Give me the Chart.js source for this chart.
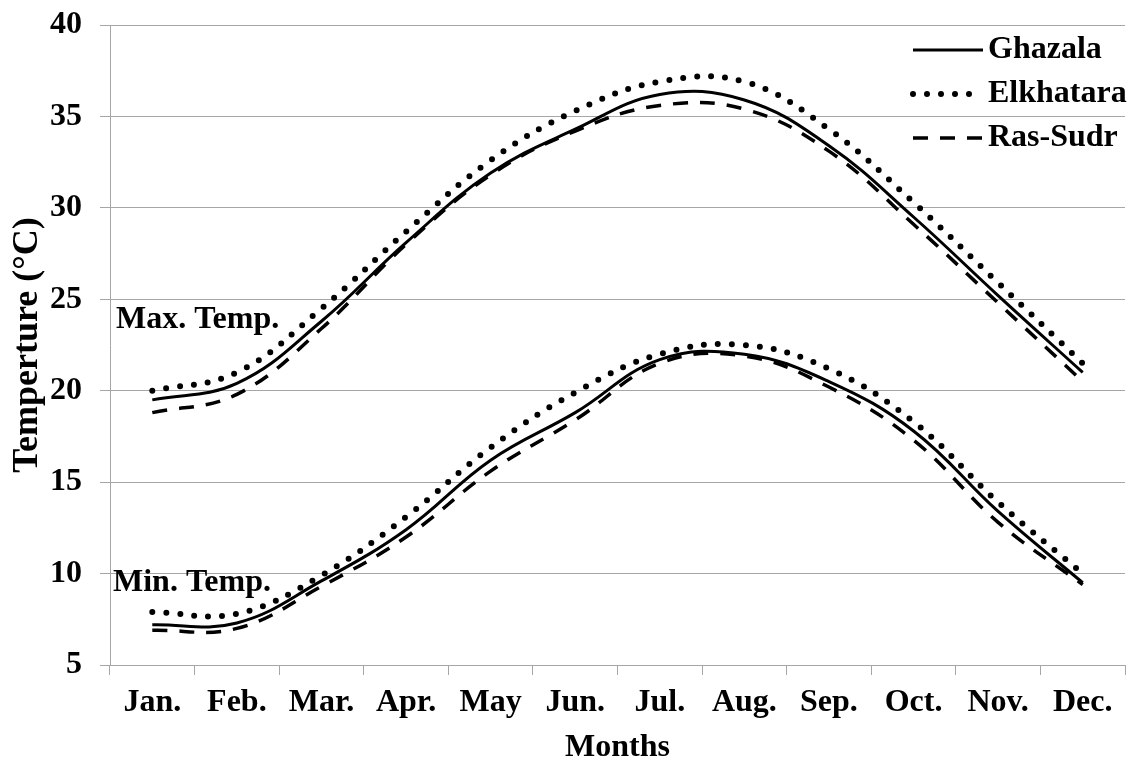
<!DOCTYPE html>
<html>
<head>
<meta charset="utf-8">
<title>Monthly temperature</title>
<script src="https://cdn.jsdelivr.net/npm/chart.js@4.4.1/dist/chart.umd.min.js"></script>
<style>
  html, body { margin: 0; padding: 0; background: #fff; }
  #wrap { width: 1137px; height: 765px; }
</style>
</head>
<body>
<div id="wrap"><canvas id="tempChart" width="1137" height="765"></canvas></div>
<script>
// monthly means, degrees C
const months = ['Jan.', 'Feb.', 'Mar.', 'Apr.', 'May', 'Jun.', 'Jul.', 'Aug.', 'Sep.', 'Oct.', 'Nov.', 'Dec.'];

const ghazalaMax   = [19.5, 20.4, 23.8, 28.1, 31.9, 34.3, 36.2, 35.9, 33.4, 29.5, 25.2, 21.0];
const elkhataraMax = [20.0, 21.0, 24.5, 28.7, 32.6, 35.3, 36.9, 36.9, 34.3, 30.3, 25.9, 21.5];
const rasSudrMax   = [18.8, 19.8, 23.4, 28.0, 31.8, 34.2, 35.6, 35.4, 33.1, 29.1, 24.8, 20.5];

const ghazalaMin   = [7.2, 7.3, 9.6, 12.4, 16.2, 18.8, 21.7, 22.0, 20.5, 17.8, 13.4, 9.5];
const elkhataraMin = [7.9, 7.8, 9.9, 13.1, 16.9, 19.9, 22.0, 22.5, 21.2, 18.3, 13.9, 10.0];
const rasSudrMin   = [6.9, 7.0, 9.3, 12.0, 15.6, 18.4, 21.5, 21.9, 20.2, 17.3, 12.8, 9.4];

const yTicks = [5, 10, 15, 20, 25, 30, 35, 40];
const stations = ['Ghazala', 'Elkhatara', 'Ras-Sudr'];

const FONT = "'Liberation Serif', 'Times New Roman', serif";
const GRID = '#a6a6a6';

Chart.defaults.font.family = FONT;
Chart.defaults.color = '#000';

// line styles per station
const styles = [
  { borderWidth: 3, borderDash: [], borderCapStyle: 'butt' },
  { borderWidth: 6, borderDash: [0, 14], borderCapStyle: 'round' },
  { borderWidth: 3.5, borderDash: [15, 12], borderCapStyle: 'butt' }
];

function series(label, data, i) {
  return Object.assign({
    label: label,
    data: data,
    borderColor: '#000',
    backgroundColor: '#000',
    pointRadius: 0,
    tension: 0.4,
    fill: false
  }, styles[i]);
}

const datasets = [
  series(stations[0], ghazalaMax, 0),
  series(stations[1], elkhataraMax, 1),
  series(stations[2], rasSudrMax, 2),
  series(stations[0] + ' min', ghazalaMin, 0),
  series(stations[1] + ' min', elkhataraMin, 1),
  series(stations[2] + ' min', rasSudrMin, 2)
];

// legend + "Max./Min. Temp." notes drawn inside the plot
const overlay = {
  id: 'overlay',
  afterDatasetsDraw(chart) {
    const { ctx, chartArea, scales } = chart;
    ctx.save();
    ctx.font = 'bold 32px ' + FONT;
    ctx.fillStyle = '#000';
    ctx.textBaseline = 'middle';
    ctx.textAlign = 'left';

    ctx.fillText('Max. Temp.', chartArea.left + 6, scales.y.getPixelForValue(23.9));
    ctx.fillText('Min. Temp.', chartArea.left + 3, scales.y.getPixelForValue(9.5));

    const x0 = chartArea.right - 212;
    const x1 = chartArea.right - 142;
    stations.forEach((name, i) => {
      const y = chartArea.top + 25 + i * 44;
      const st = styles[i];
      ctx.beginPath();
      ctx.lineWidth = st.borderWidth;
      ctx.setLineDash(st.borderDash);
      ctx.lineCap = st.borderCapStyle;
      ctx.strokeStyle = '#000';
      ctx.moveTo(x0, y);
      ctx.lineTo(x1, y);
      ctx.stroke();
      ctx.setLineDash([]);
      ctx.fillText(name, x1 + 5, y);
    });
    ctx.restore();
  }
};

new Chart(document.getElementById('tempChart'), {
  type: 'line',
  data: { labels: months, datasets: datasets },
  plugins: [overlay],
  options: {
    responsive: false,
    animation: false,
    layout: { padding: { top: 25, right: 12, left: 0, bottom: 0 } },
    plugins: {
      legend: { display: false },
      tooltip: { enabled: false }
    },
    scales: {
      x: {
        type: 'category',
        offset: true,
        grid: { offset: true, drawOnChartArea: false, tickLength: 10, color: GRID },
        border: { color: GRID },
        ticks: { font: { size: 32, weight: 'bold' }, padding: 9, maxRotation: 0, autoSkip: false },
        title: { display: true, text: 'Months', font: { size: 32, weight: 'bold' }, padding: { top: 0, bottom: -2 } },
        afterFit: s => { s.height = 100; }
      },
      y: {
        min: 5,
        max: 40,
        afterBuildTicks: s => { s.ticks = yTicks.map(v => ({ value: v })); },
        grid: { color: GRID, tickLength: 10 },
        border: { color: GRID },
        ticks: { font: { size: 32, weight: 'bold' }, padding: 18 },
        title: { display: true, text: 'Temperture (°C)', font: { size: 36, weight: 'bold' }, padding: { top: 6, bottom: 0 } },
        // keep the top label from pushing the plot down
        afterFit: s => { s.width = 110; s.paddingTop = 0; }
      }
    }
  }
});
</script>
</body>
</html>
